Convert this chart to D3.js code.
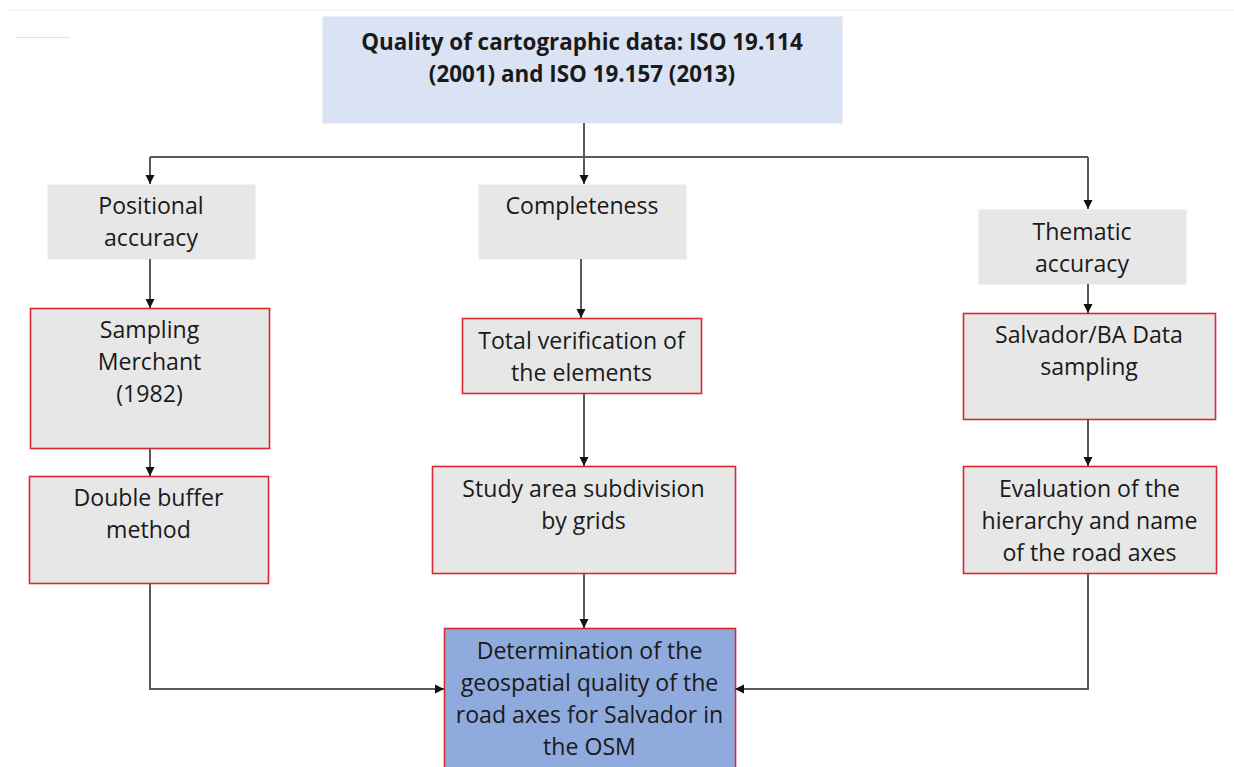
<!DOCTYPE html>
<html><head><meta charset="utf-8">
<script src="https://cdn.jsdelivr.net/npm/d3@7"></script>
<style>html,body{margin:0;padding:0;background:#fff}svg{display:block}</style>
</head><body>
<script>
// Content
const titleLines = ["Quality of cartographic data: ISO 19.114", "(2001) and ISO 19.157 (2013)"];
const criteria = [["Positional", "accuracy"], ["Completeness"], ["Thematic", "accuracy"]];
const methods = [["Sampling", "Merchant", "(1982)"], ["Total verification of", "the elements"], ["Salvador/BA Data", "sampling"]];
const evaluations = [["Double buffer", "method"], ["Study area subdivision", "by grids"], ["Evaluation of the", "hierarchy and name", "of the road axes"]];
const resultLines = ["Determination of the", "geospatial quality of the", "road axes for Salvador in", "the OSM"];

// Layout (pixels)
const W = 1234, H = 767;
const layout = {
  title: {x: 322, y: 16, w: 520, h: 107, ty: 41},
  criteria: [{x: 47, y: 184, w: 208, h: 75, ty: 205}, {x: 478, y: 184, w: 208, h: 75, ty: 205}, {x: 978, y: 209, w: 208, h: 75, ty: 231}],
  methods: [{x: 30, y: 308, w: 239, h: 140, ty: 329}, {x: 462, y: 318, w: 239, h: 75, ty: 340}, {x: 963, y: 313, w: 252, h: 106, ty: 334}],
  evals: [{x: 29, y: 476, w: 239, h: 107, ty: 497}, {x: 432, y: 466, w: 303, h: 107, ty: 488}, {x: 963, y: 466, w: 253, h: 107, ty: 488}],
  result: {x: 444, y: 628, w: 291, h: 150, ty: 650},
  colX: [150, 584, 1088], busY: 157, joinY: 689
};

const svg = d3.select("body").append("svg").attr("width", W).attr("height", H);
const defs = svg.append("defs");
defs.append("marker").attr("id", "ah").attr("viewBox", "0 0 10 10").attr("refX", 10).attr("refY", 5)
  .attr("markerWidth", 4.6).attr("markerHeight", 4.6).attr("markerUnits", "strokeWidth").attr("orient", "auto")
  .append("path").attr("d", "M0,0L10,5L0,10Z").attr("fill", "#111");

// faint page marks
svg.append("line").attr("x1", 7).attr("x2", W).attr("y1", 10.5).attr("y2", 10.5).attr("stroke", "#f0f0f0").attr("stroke-width", 1);
svg.append("line").attr("x1", 15).attr("x2", 70).attr("y1", 37.5).attr("y2", 37.5).attr("stroke", "#e2e2e2").attr("stroke-width", 1);

const FONT = "'Open Sans', sans-serif";
const lineH = 32;

// connectors
const lines = svg.append("g").attr("fill", "none").attr("stroke", "#5a5a5a").attr("stroke-width", 2);
const line = d3.line();
const cx = layout.colX;
const conns = [
  [[cx[1], 123], [cx[1], 184]],
  [[cx[0], layout.busY], [cx[2], layout.busY]],
  [[cx[0], layout.busY], [cx[0], 184]],
  [[cx[2], layout.busY], [cx[2], 209]],
  [[cx[0], 259], [cx[0], 308]],
  [[581, 259], [581, 318]],
  [[cx[2], 284], [cx[2], 313]],
  [[cx[0], 448], [cx[0], 476]],
  [[cx[1], 393], [cx[1], 466]],
  [[cx[2], 419], [cx[2], 466]],
  [[cx[1], 573], [cx[1], 628]],
  [[cx[0], 583], [cx[0], layout.joinY], [444, layout.joinY]],
  [[cx[2], 573], [cx[2], layout.joinY], [735, layout.joinY]]
];
lines.selectAll("path").data(conns).join("path")
  .attr("d", d => line(d))
  .attr("marker-end", (d, i) => i === 1 ? null : "url(#ah)");

function box(g, b, lbl, opt) {
  const grp = g.append("g");
  grp.append("rect").attr("x", b.x + 0.5).attr("y", b.y + 0.5).attr("width", b.w).attr("height", b.h)
    .attr("fill", opt.fill).attr("stroke", opt.stroke || "none").attr("stroke-width", opt.stroke ? 1.6 : 0);
  grp.selectAll("text").data(lbl).join("text")
    .attr("x", b.x + b.w / 2).attr("y", (d, i) => b.ty + i * lineH)
    .attr("text-anchor", "middle").attr("dominant-baseline", "central")
    .attr("font-family", FONT).attr("font-size", opt.size || 23.1).attr("font-weight", opt.weight || 400)
    .attr("fill", "#1a1a1a").text(d => d);
}
const boxes = svg.append("g");
box(boxes, layout.title, titleLines, {fill: "#dae3f3", weight: 700, size: 22.4});
criteria.forEach((c, i) => box(boxes, layout.criteria[i], c, {fill: "#e7e7e7"}));
methods.forEach((c, i) => box(boxes, layout.methods[i], c, {fill: "#e7e7e7", stroke: "#d9282f"}));
evaluations.forEach((c, i) => box(boxes, layout.evals[i], c, {fill: "#e7e7e7", stroke: "#d9282f"}));
box(boxes, layout.result, resultLines, {fill: "#8faadc", stroke: "#d9282f"});
svg.node().appendChild(lines.node());
</script>
</body></html>
